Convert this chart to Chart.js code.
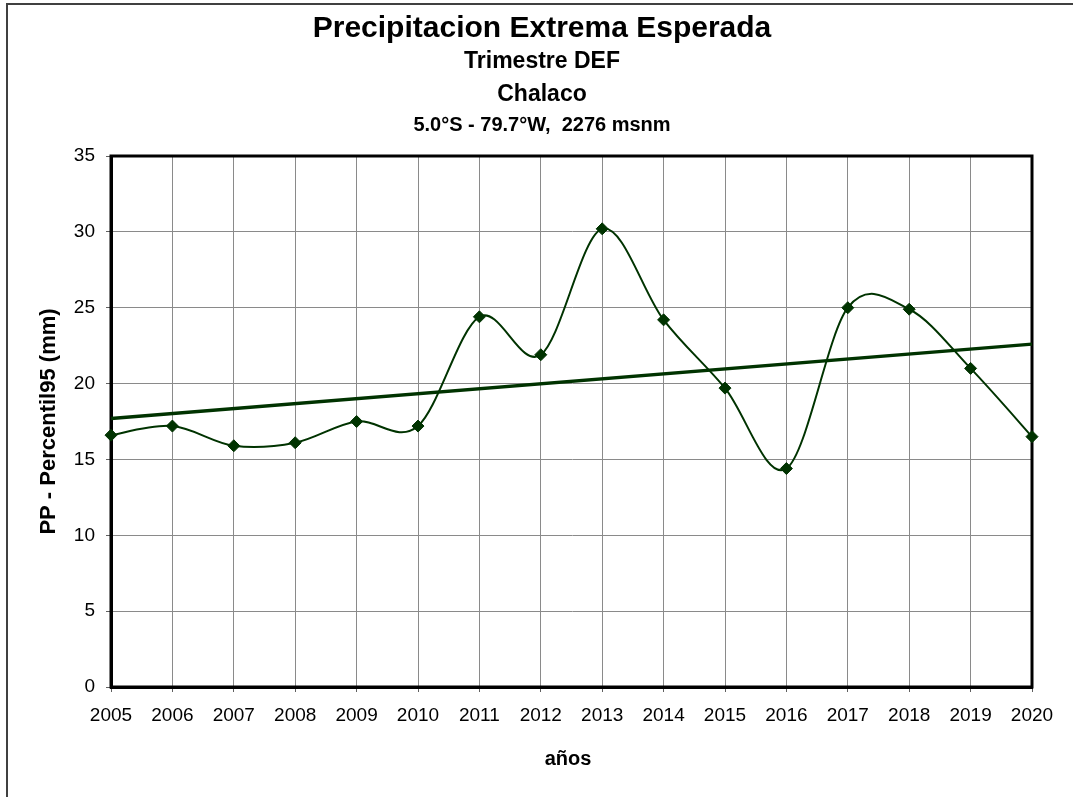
<!DOCTYPE html>
<html>
<head>
<meta charset="utf-8">
<title>Precipitacion Extrema Esperada - Chalaco</title>
<script src="https://cdn.jsdelivr.net/npm/chart.js@4.4.1/dist/chart.umd.min.js"></script>
<style>
  html, body { margin: 0; padding: 0; background: #ffffff; }
  #wrap { position: relative; width: 1073px; height: 797px; }
  canvas { display: block; }
</style>
</head>
<body>
<div id="wrap"><canvas id="chart" width="1073" height="797"></canvas></div>
<script>
// Years on the horizontal axis
const years = ['2005', '2006', '2007', '2008', '2009', '2010', '2011', '2012',
               '2013', '2014', '2015', '2016', '2017', '2018', '2019', '2020'];

// Expected extreme precipitation, 95th percentile (mm), DEF quarter
const pp95 = [16.6, 17.2, 15.9, 16.1, 17.5, 17.2, 24.4, 21.9,
              30.2, 24.2, 19.7, 14.4, 25.0, 24.9, 21.0, 16.5];

// Linear trend values at the first and last year
const trendEnds = [17.7, 22.6];

// Vertical axis range and step
const yRange = [0, 35];
const yStep = 5;

// Header lines
const titleText = 'Precipitacion Extrema Esperada';
const subtitleLines = ['Trimestre DEF', 'Chalaco'];
const locationText = '5.0\u00B0S - 79.7\u00B0W,  2276 msnm';
const yAxisTitle = 'PP - Percentil95 (mm)';
const xAxisTitle = 'a\u00F1os';

const FONT = '"Liberation Sans", Arial, Helvetica, sans-serif';
const GREEN = '#003300';

// Smooth the line like a spreadsheet "smoothed line": each control point is
// offset by one sixth of the vector between the neighbouring points.
const smoothLine = {
  id: 'smoothLine',
  beforeDatasetDraw(chart, args) {
    if (args.index !== 0) return;
    const meta = args.meta;
    const pts = meta.data;
    const n = pts.length;
    for (let i = 0; i < n; i++) {
      const p = pts[i];
      const prev = pts[Math.max(i - 1, 0)];
      const next = pts[Math.min(i + 1, n - 1)];
      const dx = (next.x - prev.x) / 6;
      const dy = (next.y - prev.y) / 6;
      p.cp1x = p.x - dx; p.cp1y = p.y - dy;
      p.cp2x = p.x + dx; p.cp2y = p.y + dy;
    }
    meta.dataset._pointsUpdated = true;
  }
};

// Thick frame around the plot area and thin frame around the figure
const frames = {
  id: 'frames',
  beforeDatasetsDraw(chart) {
    const { ctx, chartArea: a } = chart;
    ctx.save();
    ctx.strokeStyle = '#000000';
    ctx.lineWidth = 3;
    ctx.strokeRect(a.left, a.top, a.right - a.left, a.bottom - a.top);
    ctx.restore();
  },
  afterDraw(chart) {
    const { ctx } = chart;
    ctx.save();
    ctx.strokeStyle = '#404040';
    ctx.lineWidth = 2;
    ctx.strokeRect(7, 4, 1200, 1000);
    ctx.restore();
  }
};

// Title block and axis titles
const labels = {
  id: 'labels',
  afterDraw(chart) {
    const { ctx, chartArea: a } = chart;
    ctx.save();
    ctx.fillStyle = '#000000';
    ctx.textAlign = 'center';
    ctx.textBaseline = 'alphabetic';
    const cx = 542;
    ctx.font = 'bold 30px ' + FONT;
    ctx.fillText(titleText, cx, 37);
    ctx.font = 'bold 23px ' + FONT;
    ctx.fillText(subtitleLines[0], cx, 68);
    ctx.fillText(subtitleLines[1], cx, 101);
    ctx.font = 'bold 20px ' + FONT;
    ctx.fillText(locationText, cx, 131);

    ctx.font = 'bold 20px ' + FONT;
    ctx.fillText(xAxisTitle, 568, 765);

    ctx.translate(55, (a.top + a.bottom) / 2);
    ctx.rotate(-Math.PI / 2);
    ctx.font = 'bold 22px ' + FONT;
    ctx.fillText(yAxisTitle, 0, 0);
    ctx.restore();
  }
};

new Chart(document.getElementById('chart'), {
  type: 'line',
  data: {
    labels: years,
    datasets: [
      {
        label: 'PP Percentil95',
        data: pp95,
        borderColor: GREEN,
        backgroundColor: GREEN,
        borderWidth: 2,
        tension: 0.4,
        pointStyle: 'rectRot',
        pointRadius: 6,
        pointBorderWidth: 1,
        pointBackgroundColor: GREEN,
        pointBorderColor: GREEN,
        fill: false
      },
      {
        label: 'Tendencia',
        data: [{ x: years[0], y: trendEnds[0] }, { x: years[years.length - 1], y: trendEnds[1] }],
        borderColor: GREEN,
        borderWidth: 3.5,
        pointRadius: 0,
        tension: 0,
        fill: false
      }
    ]
  },
  options: {
    responsive: false,
    animation: false,
    devicePixelRatio: 1,
    events: [],
    layout: { padding: { top: 156, left: 0, right: 41, bottom: 0 } },
    plugins: {
      legend: { display: false },
      tooltip: { enabled: false },
      title: { display: false }
    },
    scales: {
      x: {
        type: 'category',
        offset: false,
        afterFit(scale) { scale.height = 110; },
        grid: {
          offset: false,
          color: '#8a8a8a',
          lineWidth: 1,
          drawTicks: true,
          tickLength: 5,
          tickColor: '#606060'
        },
        border: { display: true, color: '#000000', width: 3 },
        ticks: {
          autoSkip: false,
          maxRotation: 0,
          padding: 12,
          color: '#000000',
          font: { family: FONT, size: 19 }
        }
      },
      y: {
        type: 'linear',
        min: yRange[0],
        max: yRange[1],
        afterFit(scale) { scale.width = 111; },
        grid: {
          color: '#8a8a8a',
          lineWidth: 1,
          drawTicks: true,
          tickLength: 5,
          tickColor: '#606060'
        },
        border: { display: true, color: '#000000', width: 3 },
        ticks: {
          stepSize: yStep,
          padding: 11,
          color: '#000000',
          font: { family: FONT, size: 19 }
        }
      }
    }
  },
  plugins: [smoothLine, frames, labels]
});
</script>
</body>
</html>
